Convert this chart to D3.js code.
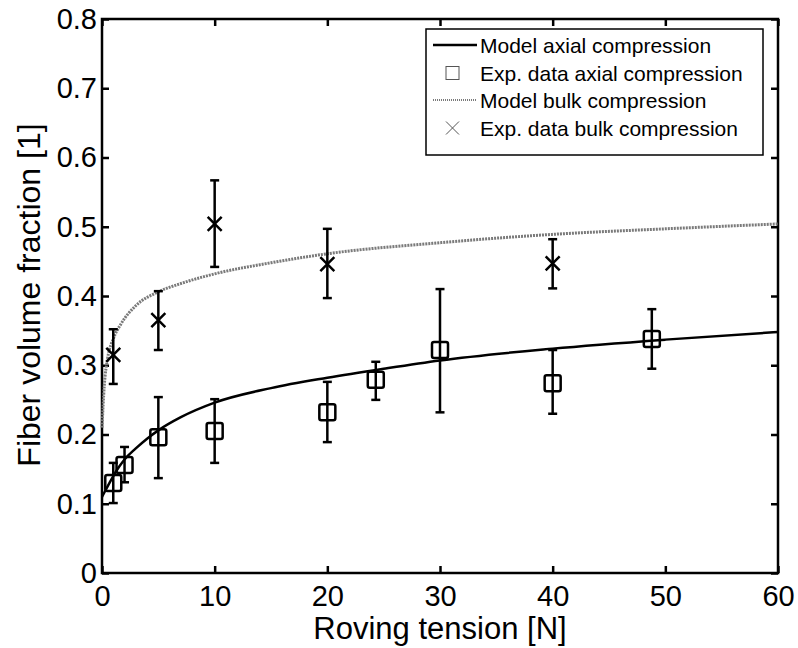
<!DOCTYPE html>
<html>
<head>
<meta charset="utf-8">
<script src="https://cdn.jsdelivr.net/npm/d3@7"></script>
<style>
  body { margin: 0; background: #fff; }
  svg { display: block; font-family: "Liberation Sans", Arial, sans-serif; }
</style>
</head>
<body>
<div id="chart"></div>
<script>
const xTicks = [0, 10, 20, 30, 40, 50, 60];
const yTicks = [0, 0.1, 0.2, 0.3, 0.4, 0.5, 0.6, 0.7, 0.8];

// model curves
const axialModelX = [0, 0.5, 1, 1.5, 2, 3, 4, 5, 7, 10, 15, 20, 25, 30, 40, 50, 60];
const axialModelY = [0.11, 0.125, 0.14, 0.153, 0.164, 0.18, 0.194, 0.206, 0.225, 0.246, 0.267, 0.282, 0.295, 0.307, 0.324, 0.337, 0.348];
const bulkModelX = [0, 0.2, 0.5, 1, 1.7, 3, 5, 7, 10, 15, 20, 30, 40, 50, 60];
const bulkModelY = [0.21, 0.27, 0.31, 0.338, 0.36, 0.386, 0.406, 0.418, 0.432, 0.448, 0.461, 0.477, 0.489, 0.497, 0.504];

// experimental data with error bar ends
const axialX = [1, 2, 5, 10, 20, 24.3, 30, 40, 48.8];
const axialY = [0.13, 0.156, 0.196, 0.205, 0.232, 0.279, 0.322, 0.274, 0.338];
const axialLow = [0.101, 0.131, 0.137, 0.159, 0.189, 0.25, 0.232, 0.23, 0.295];
const axialHigh = [0.159, 0.182, 0.254, 0.251, 0.276, 0.305, 0.41, 0.322, 0.381];

const bulkX = [1, 5, 10, 20, 40];
const bulkY = [0.315, 0.365, 0.504, 0.446, 0.447];
const bulkLow = [0.273, 0.322, 0.442, 0.397, 0.411];
const bulkHigh = [0.352, 0.407, 0.567, 0.497, 0.482];

const legendLabels = [
  'Model axial compression',
  'Exp. data axial compression',
  'Model bulk compression',
  'Exp. data bulk compression',
];

const WIDTH = 798;
const HEIGHT = 648;
const LEFT = 102;
const RIGHT = 778;
const TOP = 19;
const BOTTOM = 573;

const svg = d3.select('#chart').append('svg').attr('width', WIDTH).attr('height', HEIGHT);

const xScale = d3.scaleLinear().domain([0, 60]).range([LEFT, RIGHT]);
const yScale = d3.scaleLinear().domain([0, 0.8]).range([BOTTOM, TOP]);

const tickFmt = (d) => (d === 0 ? '0' : d3.format('.1f')(d));

// axes with inward ticks on all sides
const axisStyle = (g) => {
  g.select('.domain').remove();
  g.selectAll('.tick line').attr('stroke', '#000').attr('stroke-width', 2.5);
  g.selectAll('.tick text').attr('font-size', 29).attr('fill', '#000');
};

svg.append('g')
  .attr('transform', `translate(0, ${BOTTOM})`)
  .call(d3.axisBottom(xScale).tickValues(xTicks).tickSize(-7).tickPadding(12).tickFormat(d3.format('d')))
  .call(axisStyle);
svg.append('g')
  .attr('transform', `translate(0, ${TOP})`)
  .call(d3.axisTop(xScale).tickValues(xTicks).tickSize(-7).tickFormat(''))
  .call(axisStyle);
svg.append('g')
  .attr('transform', `translate(${LEFT}, 0)`)
  .call(d3.axisLeft(yScale).tickValues(yTicks).tickSize(-7).tickPadding(5).tickFormat(tickFmt))
  .call(axisStyle);
svg.append('g')
  .attr('transform', `translate(${RIGHT}, 0)`)
  .call(d3.axisRight(yScale).tickValues(yTicks).tickSize(-7).tickFormat(''))
  .call(axisStyle);

svg.append('rect')
  .attr('x', LEFT).attr('y', TOP)
  .attr('width', RIGHT - LEFT).attr('height', BOTTOM - TOP)
  .attr('fill', 'none').attr('stroke', '#000').attr('stroke-width', 2.5);

const line = d3.line().x((d) => xScale(d[0])).y((d) => yScale(d[1])).curve(d3.curveMonotoneX);

svg.append('path')
  .attr('d', line(bulkModelX.map((x, i) => [x, bulkModelY[i]])))
  .attr('fill', 'none').attr('stroke', '#7a7a7a').attr('stroke-width', 3)
  .attr('stroke-dasharray', '2,1');

svg.append('path')
  .attr('d', line(axialModelX.map((x, i) => [x, axialModelY[i]])))
  .attr('fill', 'none').attr('stroke', '#000').attr('stroke-width', 2.5);

const drawErrorBars = (xs, lows, highs) => {
  const g = svg.append('g').attr('stroke', '#000').attr('stroke-width', 2.5);
  xs.forEach((x, i) => {
    const cx = xScale(x);
    g.append('line').attr('x1', cx).attr('x2', cx).attr('y1', yScale(lows[i])).attr('y2', yScale(highs[i]));
    g.append('line').attr('x1', cx - 4.5).attr('x2', cx + 4.5).attr('y1', yScale(lows[i])).attr('y2', yScale(lows[i]));
    g.append('line').attr('x1', cx - 4.5).attr('x2', cx + 4.5).attr('y1', yScale(highs[i])).attr('y2', yScale(highs[i]));
  });
};

drawErrorBars(axialX, axialLow, axialHigh);
drawErrorBars(bulkX, bulkLow, bulkHigh);

svg.append('g')
  .selectAll('rect')
  .data(axialX)
  .join('rect')
  .attr('x', (d) => xScale(d) - 8)
  .attr('y', (d, i) => yScale(axialY[i]) - 8)
  .attr('width', 16).attr('height', 16).attr('rx', 2)
  .attr('fill', 'none').attr('stroke', '#000').attr('stroke-width', 2.5);

svg.append('g')
  .selectAll('path')
  .data(bulkX)
  .join('path')
  .attr('d', (d, i) => {
    const cx = xScale(d);
    const cy = yScale(bulkY[i]);
    const s = 7;
    return `M${cx - s},${cy - s}L${cx + s},${cy + s}M${cx - s},${cy + s}L${cx + s},${cy - s}`;
  })
  .attr('fill', 'none').attr('stroke', '#000').attr('stroke-width', 2.5);

// legend
const legend = svg.append('g');
legend.append('rect')
  .attr('x', 426).attr('y', 29).attr('width', 337).attr('height', 126)
  .attr('fill', '#fff').attr('stroke', '#000').attr('stroke-width', 1.5);

const rowY = [45, 73, 100, 128];
legendLabels.forEach((label, i) => {
  legend.append('text')
    .attr('x', 480).attr('y', rowY[i]).attr('dy', '0.36em')
    .attr('font-size', 21).text(label);
});
legend.append('line')
  .attr('x1', 433).attr('x2', 477).attr('y1', rowY[0]).attr('y2', rowY[0])
  .attr('stroke', '#000').attr('stroke-width', 2.5);
legend.append('rect')
  .attr('x', 446).attr('y', rowY[1] - 6.5).attr('width', 13).attr('height', 13)
  .attr('fill', 'none').attr('stroke', '#555').attr('stroke-width', 1);
legend.append('line')
  .attr('x1', 433).attr('x2', 477).attr('y1', rowY[2]).attr('y2', rowY[2])
  .attr('stroke', '#7a7a7a').attr('stroke-width', 2).attr('stroke-dasharray', '1,1');
legend.append('path')
  .attr('d', `M446,${rowY[3] - 6.5}L459,${rowY[3] + 6.5}M446,${rowY[3] + 6.5}L459,${rowY[3] - 6.5}`)
  .attr('stroke', '#555').attr('stroke-width', 1);

svg.append('text')
  .attr('x', (LEFT + RIGHT) / 2).attr('y', 639)
  .attr('text-anchor', 'middle').attr('font-size', 31)
  .text('Roving tension [N]');

svg.append('text')
  .attr('transform', `translate(40, 295) rotate(-90)`)
  .attr('text-anchor', 'middle').attr('font-size', 32)
  .text('Fiber volume fraction [1]');
</script>
</body>
</html>
